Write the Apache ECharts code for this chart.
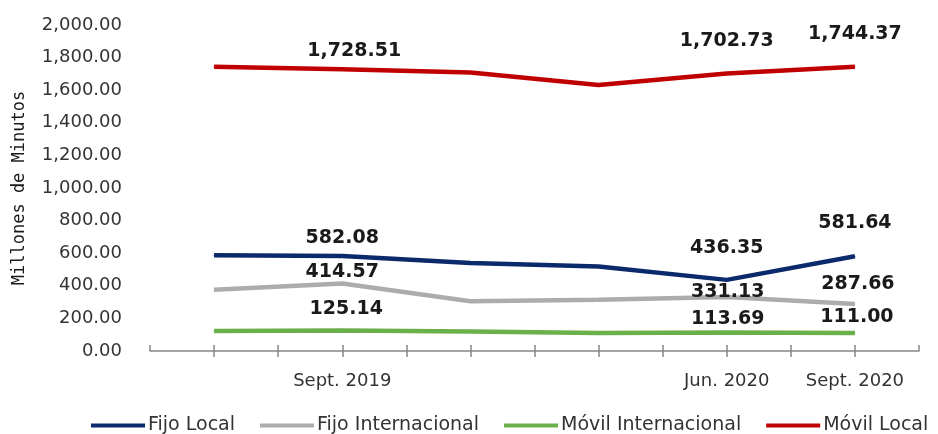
<!DOCTYPE html>
<html>
<head>
<meta charset="utf-8">
<script src="https://cdn.jsdelivr.net/npm/echarts@6/dist/echarts.min.js"></script>
<style>
  html, body { margin: 0; padding: 0; background: #fff; }
  #chart { width: 938px; height: 434px; }
</style>
</head>
<body>
<div id="chart"></div>
<script>
// trimestres (solo algunos llevan etiqueta en el eje)
const periods = ['Jun. 2019', 'Sept. 2019', 'Dic. 2019', 'Mar. 2020', 'Jun. 2020', 'Sept. 2020'];
const shownPeriods = ['Sept. 2019', 'Jun. 2020', 'Sept. 2020'];
const yTicks = [0, 200, 400, 600, 800, 1000, 1200, 1400, 1600, 1800, 2000];

const fijoLocal = [588, 582.08, 540, 519, 436.35, 581.64];
const fijoInternacional = [376, 414.57, 305, 315, 331.13, 287.66];
const movilInternacional = [122, 125.14, 120, 110, 113.69, 111.00];
const movilLocal = [1744, 1728.51, 1708, 1632, 1702.73, 1744.37];

// posicion de las etiquetas respecto al punto [dx, dy]
const labelOffsets = {
    'Fijo Local': [[0, -18], [0, -32], [0, -33]],
    'Fijo Internacional': [[0, -11], [1, -5], [3, -20]],
    'Móvil Internacional': [[4, -22], [1, -13], [2, -16]],
    'Móvil Local': [[12, -18], [0, -32], [0, -33]]
};

const FONT = '"DejaVu Sans"';
const TXT = '#333333';
const fmt = v => v.toLocaleString('en-US', { minimumFractionDigits: 2, maximumFractionDigits: 2 });

function makeSeries(name, values, color) {
    const offs = labelOffsets[name];
    return {
        name: name,
        type: 'line',
        symbol: 'circle',
        symbolSize: 1,
        lineStyle: { color: color, width: 4.5 },
        itemStyle: { color: color },
        data: values.map((v, i) => {
            const k = shownPeriods.indexOf(periods[i]);
            return {
                value: [i + 0.5, v],
                label: k >= 0 ? { show: true, offset: offs[k] } : { show: false }
            };
        }),
        label: {
            position: 'inside',
            formatter: p => fmt(p.value[1]),
            color: '#1a1a1a',
            fontFamily: FONT,
            fontWeight: 'bold',
            fontSize: 19
        },
        z: 3
    };
}

const chart = echarts.init(document.getElementById('chart'));

const xBase = {
    type: 'value',
    min: 0,
    max: periods.length,
    interval: 0.5,
    position: 'bottom',
    splitLine: { show: false }
};

const option = {
    animation: false,
    grid: { left: 150, right: 19, top: 25, bottom: 83, containLabel: false, outerBoundsMode: 'none' },
    legend: {
        top: 411,
        left: 86,
        icon: 'rect',
        itemWidth: 54,
        itemHeight: 4,
        itemGap: 25,
        textStyle: { fontFamily: FONT, fontSize: 19, color: TXT, padding: [0, 0, 0, -2] },
        data: ['Fijo Local', 'Fijo Internacional', 'Móvil Internacional', 'Móvil Local']
    },
    xAxis: [
        Object.assign({}, xBase, {
            axisLine: { show: true, lineStyle: { color: '#868686', width: 1.5 } },
            axisTick: { show: true, inside: false, length: 6, lineStyle: { color: '#868686', width: 1.5 } },
            axisLabel: {
                margin: 21,
                fontFamily: FONT,
                fontSize: 18,
                color: TXT,
                showMinLabel: false,
                showMaxLabel: false,
                formatter: v => {
                    const idx = v - 0.5;
                    if (Number.isInteger(idx) && shownPeriods.includes(periods[idx])) return periods[idx];
                    return '';
                }
            }
        }),
        Object.assign({}, xBase, {
            axisLine: { show: false },
            axisTick: { show: true, inside: true, length: 6, lineStyle: { color: '#868686', width: 1.5 } },
            axisLabel: { show: false }
        })
    ],
    yAxis: {
        type: 'value',
        min: yTicks[0],
        max: yTicks[yTicks.length - 1],
        interval: 200,
        name: 'Millones de Minutos',
        nameLocation: 'middle',
        nameGap: 122,
        nameTextStyle: { fontFamily: '"DejaVu Sans Mono"', fontSize: 17, color: '#1a1a1a' },
        axisLine: { show: false },
        axisTick: { show: false },
        splitLine: { show: false },
        axisLabel: { margin: 28, fontFamily: FONT, fontSize: 18, color: TXT, padding: [0, 0, 3, 0], formatter: v => fmt(v) }
    },
    series: [
        makeSeries('Fijo Local', fijoLocal, '#0b2a6b'),
        makeSeries('Fijo Internacional', fijoInternacional, '#aeabab'),
        makeSeries('Móvil Internacional', movilInternacional, '#6ab04a'),
        makeSeries('Móvil Local', movilLocal, '#c00000')
    ]
};

chart.setOption(option);
</script>
</body>
</html>
